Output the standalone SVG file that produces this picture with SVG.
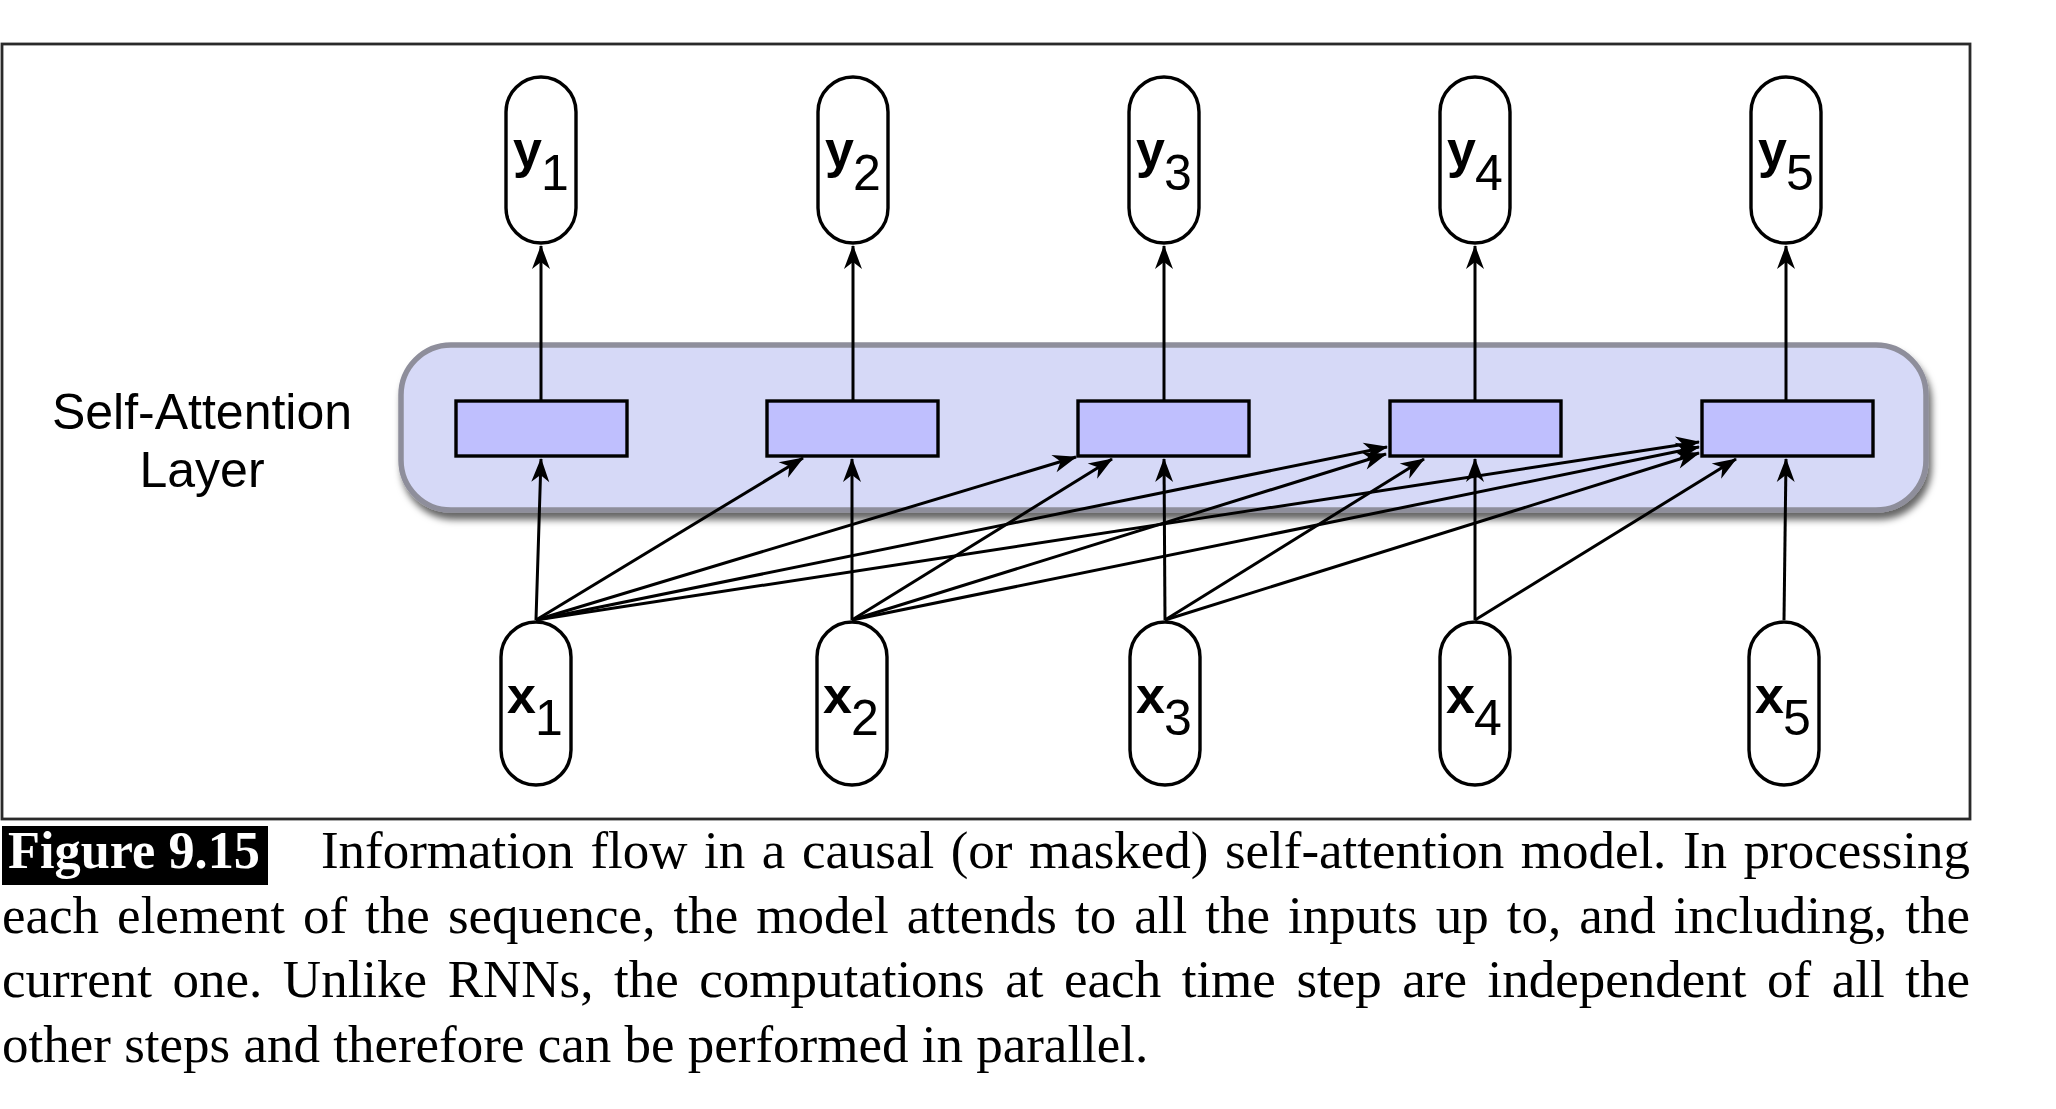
<svg xmlns="http://www.w3.org/2000/svg" width="2056" height="1109" viewBox="0 0 2056 1109">
<style>
.node{fill:#fff;stroke:#000;stroke-width:3.4}
.unit{fill:#bfbffe;stroke:#000;stroke-width:3.4}
.lbl{font-family:"Liberation Sans",Arial,Helvetica,sans-serif;font-size:50px;fill:#000}
.b{font-weight:bold;font-size:52px}
.conn line{stroke:#000;stroke-width:3;fill:none;marker-end:url(#ah)}
.cap{font-family:"Liberation Serif","Times New Roman",serif;font-size:53px;fill:#000}
</style>
<defs>
<marker id="ah" viewBox="-26 -11 28 22" refX="0" refY="0" markerWidth="28" markerHeight="22" markerUnits="userSpaceOnUse" orient="auto">
<path d="M1,0 L-23,-9 L-16,0 L-23,9 Z" fill="#000"/>
</marker>
<filter id="sh" x="-5%" y="-20%" width="110%" height="150%">
<feDropShadow dx="3" dy="7" stdDeviation="3.5" flood-color="#000" flood-opacity="0.6"/>
</filter>
</defs>
<rect id="frame" x="2" y="44" width="1968" height="775" fill="#fff" stroke="#2a2a2a" stroke-width="2.8"/>
<g id="layer">
<rect x="401" y="345" width="1525" height="165" rx="50" fill="#d6d9f7" stroke="#8e8e9b" stroke-width="5.5" filter="url(#sh)"/>
<text class="lbl" x="202" y="429" text-anchor="middle" font-size="52">Self-Attention</text>
<text class="lbl" x="202" y="487" text-anchor="middle" font-size="52">Layer</text>
</g>
<g id="units">
<rect id="a1" class="unit" x="456" y="401" width="171" height="55"/>
<rect id="a2" class="unit" x="767" y="401" width="171" height="55"/>
<rect id="a3" class="unit" x="1078" y="401" width="171" height="55"/>
<rect id="a4" class="unit" x="1390" y="401" width="171" height="55"/>
<rect id="a5" class="unit" x="1702" y="401" width="171" height="55"/>
</g>
<g id="connectors" class="conn">
<line x1="541" y1="401" x2="541" y2="246"/>
<line x1="853" y1="401" x2="853" y2="246"/>
<line x1="1164" y1="401" x2="1164" y2="246"/>
<line x1="1475" y1="401" x2="1475" y2="246"/>
<line x1="1786" y1="401" x2="1786" y2="246"/>
<line x1="536" y1="620" x2="541" y2="459"/>
<line x1="536" y1="620" x2="803" y2="458"/>
<line x1="536" y1="620" x2="1076" y2="457"/>
<line x1="536" y1="620" x2="1387" y2="447"/>
<line x1="536" y1="620" x2="1699" y2="442"/>
<line x1="852" y1="620" x2="852" y2="459"/>
<line x1="852" y1="620" x2="1112" y2="459"/>
<line x1="852" y1="620" x2="1386" y2="454"/>
<line x1="852" y1="620" x2="1699" y2="447"/>
<line x1="1165" y1="620" x2="1164" y2="459"/>
<line x1="1165" y1="620" x2="1424" y2="459"/>
<line x1="1165" y1="620" x2="1699" y2="453"/>
<line x1="1475" y1="620" x2="1475" y2="459"/>
<line x1="1475" y1="620" x2="1736" y2="459"/>
<line x1="1784" y1="620" x2="1786" y2="459"/>
</g>
<g id="y1"><rect class="node" x="506" y="77" width="70" height="166" rx="35"/><text class="lbl" x="513" y="167"><tspan class="b">y</tspan><tspan dy="23" dx="-1">1</tspan></text></g>
<g id="y2"><rect class="node" x="818" y="77" width="70" height="166" rx="35"/><text class="lbl" x="825" y="167"><tspan class="b">y</tspan><tspan dy="23" dx="-1">2</tspan></text></g>
<g id="y3"><rect class="node" x="1129" y="77" width="70" height="166" rx="35"/><text class="lbl" x="1136" y="167"><tspan class="b">y</tspan><tspan dy="23" dx="-1">3</tspan></text></g>
<g id="y4"><rect class="node" x="1440" y="77" width="70" height="166" rx="35"/><text class="lbl" x="1447" y="167"><tspan class="b">y</tspan><tspan dy="23" dx="-1">4</tspan></text></g>
<g id="y5"><rect class="node" x="1751" y="77" width="70" height="166" rx="35"/><text class="lbl" x="1758" y="167"><tspan class="b">y</tspan><tspan dy="23" dx="-1">5</tspan></text></g>
<g id="x1"><rect class="node" x="501" y="622" width="70" height="163" rx="35"/><text class="lbl" x="507" y="713"><tspan class="b">x</tspan><tspan dy="22" dx="-1">1</tspan></text></g>
<g id="x2"><rect class="node" x="817" y="622" width="70" height="163" rx="35"/><text class="lbl" x="823" y="713"><tspan class="b">x</tspan><tspan dy="22" dx="-1">2</tspan></text></g>
<g id="x3"><rect class="node" x="1130" y="622" width="70" height="163" rx="35"/><text class="lbl" x="1136" y="713"><tspan class="b">x</tspan><tspan dy="22" dx="-1">3</tspan></text></g>
<g id="x4"><rect class="node" x="1440" y="622" width="70" height="163" rx="35"/><text class="lbl" x="1446" y="713"><tspan class="b">x</tspan><tspan dy="22" dx="-1">4</tspan></text></g>
<g id="x5"><rect class="node" x="1749" y="622" width="70" height="163" rx="35"/><text class="lbl" x="1755" y="713"><tspan class="b">x</tspan><tspan dy="22" dx="-1">5</tspan></text></g>
<g id="caption">
<rect x="2" y="826" width="266" height="59" fill="#000"/>
<text class="cap" x="8" y="868" font-weight="bold" style="fill:#fff" textLength="252" lengthAdjust="spacingAndGlyphs">Figure 9.15</text>
<text class="cap" x="321" y="868" word-spacing="3.4" textLength="1649" lengthAdjust="spacing">Information flow in a causal (or masked) self-attention model. In processing</text>
<text class="cap" x="2" y="933" word-spacing="4.8" textLength="1968" lengthAdjust="spacing">each element of the sequence, the model attends to all the inputs up to, and including, the</text>
<text class="cap" x="2" y="997" word-spacing="7.3" textLength="1968" lengthAdjust="spacing">current one. Unlike RNNs, the computations at each time step are independent of all the</text>
<text class="cap" x="2" y="1062">other steps and therefore can be performed in parallel.</text>
</g>
</svg>
